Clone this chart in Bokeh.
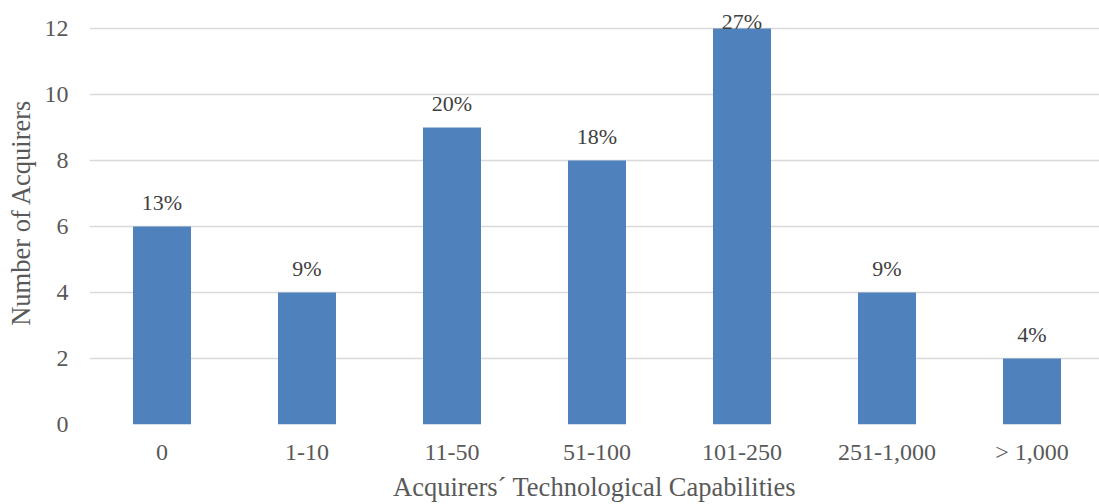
import numpy as np
from bokeh.plotting import figure
from bokeh.models import ColumnDataSource, Range1d, LabelSet, FixedTicker
from bokeh.embed import file_html
from bokeh.resources import INLINE

categories = ["0", "1-10", "11-50", "51-100", "101-250", "251-1,000", "> 1,000"]
counts = [6, 4, 9, 8, 12, 4, 2]
shares = ["13%", "9%", "20%", "18%", "27%", "9%", "4%"]
y_ticks = [0, 2, 4, 6, 8, 10, 12]

FONT = "Liberation Serif"
TXT = "#595959"

W, H = 1099, 504
LEFT, BOTTOM = 89, 80
CAT_PX = 145.0          # width of one category slot in pixels
frame_w = W - LEFT
frame_h = H - BOTTOM
y_top = 12 * frame_h / (frame_h - 28.0)   # leave room above the 12 gridline

xpos = np.arange(len(categories)) + 0.5
label_y = np.minimum(np.array(counts, dtype=float) + 0.485, 12.0)
src = ColumnDataSource(dict(x=xpos, cat=categories, n=counts, lab=shares, ly=label_y))

p = figure(x_range=Range1d(0, frame_w / CAT_PX), y_range=Range1d(0, y_top),
           width=W, height=H, output_backend="svg", toolbar_location=None,
           min_border_left=LEFT, min_border_right=0, min_border_top=0, min_border_bottom=BOTTOM)
p.outline_line_color = None
p.background_fill_color = "white"
p.border_fill_color = "white"

p.vbar(x="x", top="n", width=0.4, source=src, fill_color="#4F81BD", line_color=None)

labels = LabelSet(x="x", y="ly", text="lab", source=src, text_align="center",
                  text_baseline="alphabetic", text_font=FONT, text_font_size="22px",
                  text_color="#404040")
p.add_layout(labels)

p.xaxis.ticker = FixedTicker(ticks=list(xpos))
p.xaxis.major_label_overrides = {float(x): c for x, c in zip(xpos, categories)}
p.yaxis.ticker = FixedTicker(ticks=y_ticks)

p.yaxis.axis_line_color = None
p.yaxis.major_tick_line_color = None
p.yaxis.minor_tick_line_color = None
p.yaxis.major_tick_out = 0
p.yaxis.major_label_standoff = 21
p.yaxis.axis_label = "Number of Acquirers"
p.yaxis.axis_label_standoff = 6

p.xaxis.axis_line_color = None
p.xaxis.major_tick_line_color = None
p.xaxis.minor_tick_line_color = None
p.xaxis.major_tick_out = 0
p.xaxis.major_label_standoff = 14
p.xaxis.axis_label = "Acquirers\u00b4 Technological Capabilities"
p.xaxis.axis_label_standoff = 4

for ax in (p.xaxis, p.yaxis):
    ax.major_label_text_font = FONT
    ax.major_label_text_font_size = "24px"
    ax.major_label_text_color = TXT
    ax.axis_label_text_font = FONT
    ax.axis_label_text_font_size = "26.5px"
    ax.axis_label_text_font_style = "normal"
    ax.axis_label_text_color = TXT

p.xgrid.grid_line_color = None
p.ygrid.grid_line_color = "#D9D9D9"
p.ygrid.grid_line_width = 1.5

open("out.html", "w").write(file_html(p, INLINE))
